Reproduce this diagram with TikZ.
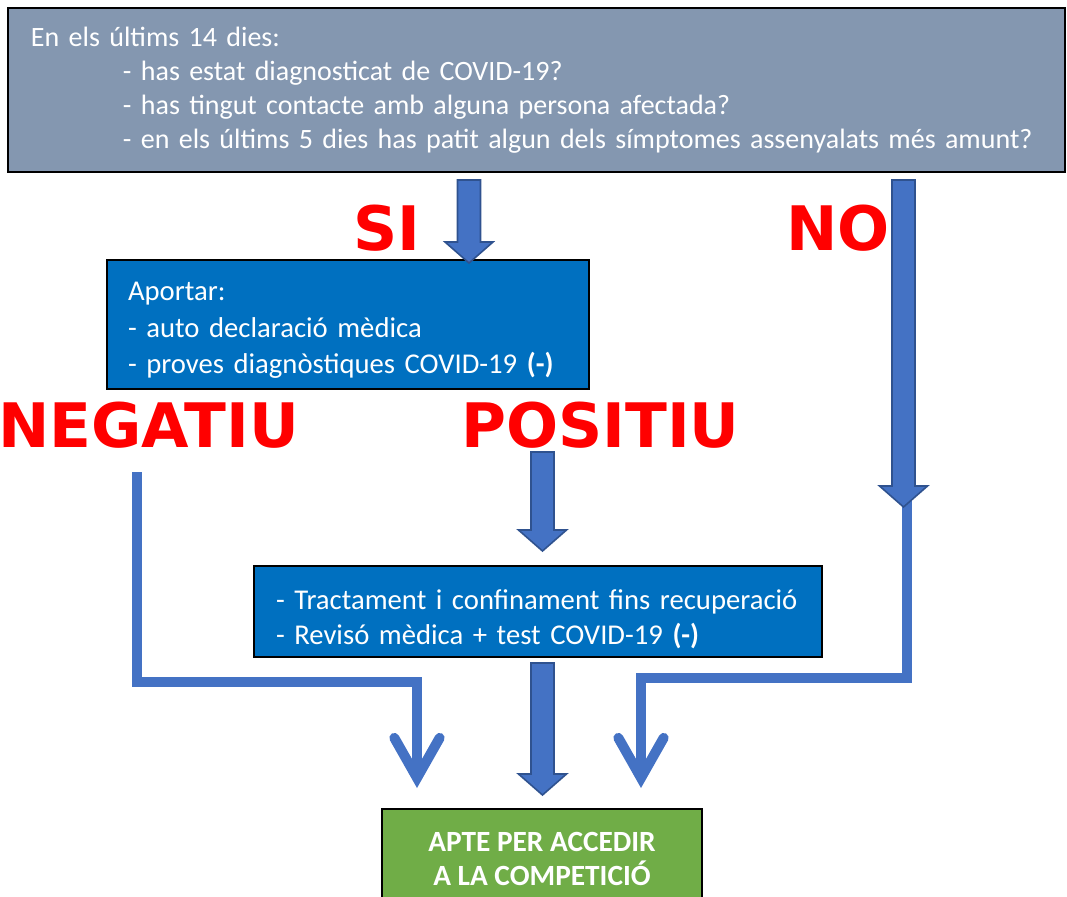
\documentclass[tikz,border=0pt]{standalone}
\usepackage{fontspec}
\setmainfont{Carlito}
\newfontfamily\labelfont{DejaVu Sans}
\usetikzlibrary{calc,arrows.meta}

\definecolor{topgray}{HTML}{8497B0}
\definecolor{boxblue}{HTML}{0070C0}
\definecolor{boxgreen}{HTML}{70AD47}
\definecolor{arrowblue}{HTML}{4472C4}
\definecolor{arrowedge}{HTML}{2F528F}
\definecolor{labelred}{HTML}{FF0000}

% block arrow pointing down, from #1 to the tip #2
\newcommand{\fatarrow}[2]{%
  \draw[fatarrow] ($(#1)+(-11.5,0)$) -- ($(#2)+(-11.5,-21)$) -- ($(#2)+(-24,-21)$) -- (#2)
    -- ($(#2)+(24,-21)$) -- ($(#2)+(11.5,-21)$) -- ($(#1)+(11.5,0)$) -- cycle;}

\begin{document}
\begin{tikzpicture}[x=0.75pt,y=-0.75pt]
\tikzstyle{fatarrow}=[fill=arrowblue, draw=arrowedge, line width=1.2pt, line join=miter]
\tikzstyle{thinarrow}=[draw=arrowblue, line width=7.5pt,
    -{Straight Barb[length=30pt, width=34pt, line cap=round, line join=miter]}]
\tikzstyle{answer}=[text=labelred, font=\labelfont\bfseries\fontsize{46}{54}\selectfont,
    anchor=base west, inner sep=0pt]
\tikzstyle{infobox}=[rectangle, draw=black, line width=1.5pt, text=white, align=left, inner ysep=0pt]

\useasboundingbox (0,0) rectangle (1067,896);

\node[infobox, fill=topgray, minimum width=792.75pt, minimum height=123pt,
    inner xsep=17.25pt, text width=758.25pt,
    font=\fontsize{21}{25.5}\selectfont] (quest) at (536.5,90)
    {En els últims 14 dies:\\
     \hspace*{69pt}- has estat diagnosticat de COVID-19?\\
     \hspace*{69pt}- has tingut contacte amb alguna persona afectada?\\
     \hspace*{69pt}- en els últims 5 dies has patit algun dels símptomes assenyalats més amunt?};

\node[infobox, fill=boxblue, minimum width=361.5pt, minimum height=96.75pt,
    inner xsep=15.75pt, text width=330pt,
    font=\fontsize{21.5}{27.4}\selectfont] (aport) at (348,324.5)
    {\rule{0pt}{23pt}Aportar:\\
     - auto declaració mèdica\\
     - proves diagnòstiques COVID-19 {\bfseries(-)}};

\node[infobox, fill=boxblue, minimum width=426pt, minimum height=68.25pt,
    inner xsep=16.5pt, text width=393pt,
    font=\fontsize{21.5}{26.25}\selectfont] (treat) at (538,611.5)
    {\rule{0pt}{26pt}- Tractament i confinament fins recuperació\\
     - Revisó mèdica + test COVID-19 {\bfseries(-)}};

\node[infobox, fill=boxgreen, align=center, minimum width=240pt, minimum height=75pt,
    font=\bfseries\fontsize{22}{25.5}\selectfont] (apte) at (542,859)
    {APTE PER ACCEDIR\\A LA COMPETICIÓ};

\node[answer] (si) at (353,250) {SI};
\node[answer] (no) at (786,250) {NO};
\node[answer] (neg) at (-2,447) {NEGATIU};
\node[answer] (pos) at (461,447) {POSITIU};

\coordinate (negS) at (137,472);
\coordinate (negK) at (417,682);
\coordinate (negE) at (417,788);
\coordinate (noS) at (907,490);
\coordinate (noK) at (641,678);
\coordinate (noE) at (641,788);
\draw[thinarrow] (negS) |- (negK) -- (negE);
\draw[thinarrow] (noS) |- (noK) -- (noE);

\coordinate (siS) at (469,180);
\coordinate (siE) at (469,263);
\coordinate (noT) at (903.5,180);
\coordinate (noH) at (903.5,507);
\coordinate (posS) at (542.5,452);
\coordinate (posE) at (542.5,551);
\coordinate (treatS) at (542.5,663);
\coordinate (treatE) at (542.5,795);
\fatarrow{siS}{siE}
\fatarrow{noT}{noH}
\fatarrow{posS}{posE}
\fatarrow{treatS}{treatE}
\end{tikzpicture}
\end{document}
